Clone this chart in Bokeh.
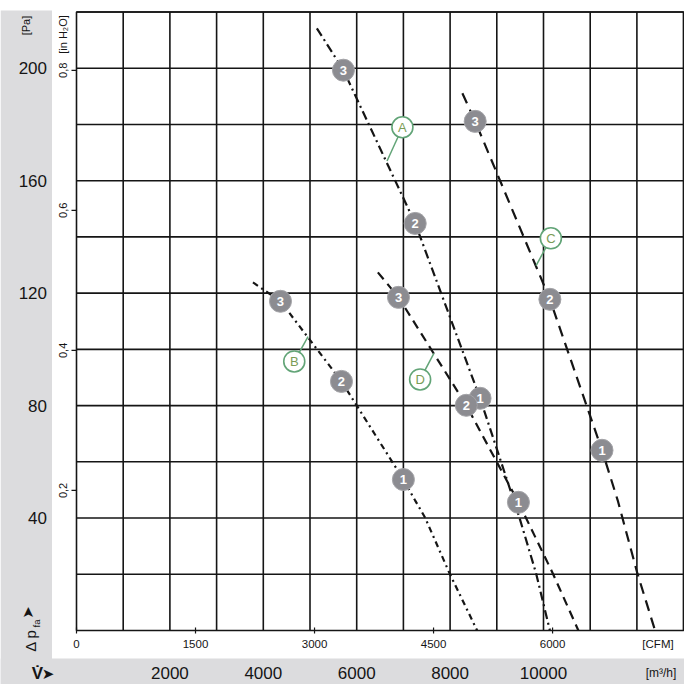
import math
from bokeh.plotting import figure
from bokeh.models import Range1d, ColumnDataSource
from bokeh.core.properties import value
from bokeh.embed import file_html
from bokeh.resources import INLINE

# ---------------- data (flow in m3/h, pressure in Pa) ----------------
curve_a_flow = [5147, 5716, 7253, 8642, 9484, 9842, 10137]
curve_a_pres = [214.2, 199.3, 144.8, 82.6, 40.2, 20.3, 0.0]
curve_b_flow = [3779, 4368, 5674, 7000, 7250, 7463, 7989, 8579]
curve_b_pres = [123.8, 117.1, 88.6, 53.7, 46.3, 40.2, 20.3, 0.0]
curve_c_flow = [8263, 8537, 10137, 11253, 11589, 12011, 12389]
curve_c_pres = [191.1, 181.1, 117.8, 64.1, 46.3, 20.3, 0.0]
curve_d_flow = [6453, 6895, 8347, 9463, 10200, 10747]
curve_d_pres = [127.4, 118.5, 80.1, 45.6, 20.3, 0.0]

# operating points (3, 2, 1) per curve
pt_flow = [5716, 7253, 8642, 4368, 5674, 7000, 8537, 10137, 11253, 6895, 8347, 9463]
pt_pres = [199.3, 144.8, 82.6, 117.1, 88.6, 53.7, 181.1, 117.8, 64.1, 118.5, 80.1, 45.6]
pt_text = ["3", "2", "1", "3", "2", "1", "3", "2", "1", "3", "2", "1"]

# curve name tags and where their leaders touch the curves
tag_text = ["A", "B", "C", "D"]
tag_flow = [6979, 4663, 10158, 7358]
tag_pres = [179.0, 95.7, 139.5, 89.3]
tag_end_flow = [6650, 4958, 9842, 7653]
tag_end_pres = [167.0, 104.5, 129.8, 98.6]

# axes
flow_ticks = [2000, 4000, 6000, 8000, 10000]
flow_labels = ["2000", "4000", "6000", "8000", "10000"]
cfm_ticks = [0, 1500, 3000, 4500, 6000]
cfm_labels = ["0", "1500", "3000", "4500", "6000"]
pa_ticks = [40, 80, 120, 160, 200]
pa_labels = ["40", "80", "120", "160", "200"]
inh2o_ticks = [0.2, 0.4, 0.6, 0.8]
inh2o_labels = ["0,2", "0,4", "0,6", "0,8"]
grid_x = list(range(1000, 14000, 1000))
grid_y = list(range(20, 240, 20))

X_MAX = 13000
Y_MAX = 220
M3H_PER_CFM = 1.69901
PA_PER_INH2O = 249.089

# ---------------- layout (canvas pixels) ----------------
W = H = 684
F_LEFT, F_RIGHT = 76.0, 683.1      # plot box, canvas x
F_TOP, F_BOTTOM = 11.5, 630.0      # plot box, canvas y
sx = (F_RIGHT - F_LEFT) / X_MAX
sy = (F_BOTTOM - F_TOP) / Y_MAX


def cx(c):  # canvas x -> data x
    return (c - F_LEFT) / sx


def cy(c):  # canvas y -> data y
    return (F_BOTTOM - c) / sy


def dy(px):  # pixel length -> data length (y)
    return px / sy


GREY_BAND = "#dcdcde"
INK = "#151515"
SANS = "Liberation Sans"

p = figure(width=W, height=H, output_backend="svg", toolbar_location=None,
           x_range=Range1d(cx(0), cx(W)), y_range=Range1d(cy(H), cy(0)),
           x_axis_location=None, y_axis_location=None,
           min_border_left=0, min_border_right=0, min_border_top=0, min_border_bottom=0,
           background_fill_color="white", border_fill_color="white",
           outline_line_color=None)
p.xgrid.visible = False
p.ygrid.visible = False

# grey bands
p.quad(left=[cx(0), cx(0)], right=[cx(51.5), cx(W)], top=[cy(10), cy(658)],
       bottom=[cy(H), cy(H)], fill_color=GREY_BAND, line_color=None)

# grid and plot box
n_gx = len(grid_x)
n_gy = len(grid_y)
p.segment(x0=grid_x, y0=[0] * n_gx, x1=grid_x, y1=[Y_MAX] * n_gx,
          line_color=INK, line_width=1.6)
p.segment(x0=[0] * n_gy, y0=grid_y, x1=[X_MAX] * n_gy, y1=grid_y,
          line_color=INK, line_width=1.6)
p.quad(left=[0], right=[X_MAX], bottom=[0], top=[Y_MAX], fill_color=None,
       line_color=INK, line_width=1.6)

# ---- left: pressure in Pa (grey band) ----
p.text(x=[cx(46.5)] * len(pa_ticks), y=pa_ticks, text=pa_labels,
       text_font=value(SANS), text_font_size="17px", text_color=INK,
       text_align="right", text_baseline="middle")
p.text(x=[cx(25)], y=[cy(25)], text=["[Pa]"], angle=math.pi / 2,
       text_font=value(SANS), text_font_size="11px", text_color=INK,
       text_align="center", text_baseline="middle")

# ---- left: pressure in in H2O ----
inh2o_y = [t * PA_PER_INH2O for t in inh2o_ticks]
p.segment(x0=[cx(F_LEFT - 5)] * len(inh2o_y), y0=inh2o_y, x1=[0] * len(inh2o_y),
          y1=inh2o_y, line_color=INK, line_width=1.2)
p.text(x=[cx(62.5)] * len(inh2o_y), y=inh2o_y, text=inh2o_labels, angle=math.pi / 2,
       text_font=value(SANS), text_font_size="11px", text_color=INK,
       text_align="center", text_baseline="middle")
p.text(x=[cx(62.5)], y=[cy(34)], text=["[in H\u2082O]"], angle=math.pi / 2,
       text_font=value(SANS), text_font_size="11px", text_color=INK,
       text_align="center", text_baseline="middle")

# ---- bottom: CFM ----
cfm_x = [t * M3H_PER_CFM for t in cfm_ticks]
p.segment(x0=cfm_x, y0=[-dy(3)] * len(cfm_x), x1=cfm_x, y1=[dy(3)] * len(cfm_x),
          line_color=INK, line_width=1.2)
p.text(x=cfm_x, y=[cy(643)] * len(cfm_x), text=cfm_labels,
       text_font=value(SANS), text_font_size="11.5px", text_color=INK,
       text_align="center", text_baseline="middle")
p.text(x=[cx(657.5)], y=[cy(643)], text=["[CFM]"],
       text_font=value(SANS), text_font_size="11.5px", text_color=INK,
       text_align="center", text_baseline="middle")

# ---- bottom: m3/h (grey band) ----
p.text(x=flow_ticks, y=[cy(672)] * len(flow_ticks), text=flow_labels,
       text_font=value(SANS), text_font_size="17px", text_color=INK,
       text_align="center", text_baseline="middle")
p.text(x=[cx(660.5)], y=[cy(672)], text=["[m\u00b3/h]"],
       text_font=value(SANS), text_font_size="12px", text_color=INK,
       text_align="center", text_baseline="middle")

# ---- axis symbols ----
p.text(x=[cx(30)], y=[cy(640)], text=["\u0394 p"], angle=math.pi / 2,
       text_font=value(SANS), text_font_size="15px", text_color=INK,
       text_align="center", text_baseline="middle")
p.text(x=[cx(35.5)], y=[cy(623)], text=["fa"], angle=math.pi / 2,
       text_font=value(SANS), text_font_size="9.5px", text_color=INK,
       text_align="center", text_baseline="middle")
p.text(x=[cx(27.5)], y=[cy(612)], text=["\u27a4"], angle=math.pi / 2,
       text_font=value("DejaVu Sans"), text_font_size="15px", text_color=INK,
       text_align="center", text_baseline="middle")
p.text(x=[cx(37)], y=[cy(673)], text=["V\u0307"],
       text_font=value(SANS), text_font_style="bold", text_font_size="17px",
       text_color=INK, text_align="center", text_baseline="middle")
p.text(x=[cx(47.5)], y=[cy(673)], text=["\u27a4"],
       text_font=value("DejaVu Sans"), text_font_size="15px", text_color=INK,
       text_align="center", text_baseline="middle")

# ---------------- curves ----------------
LW = 2.2
p.line(curve_a_flow, curve_a_pres, line_color=INK, line_width=LW, line_dash="9 4 2 4")
p.line(curve_b_flow, curve_b_pres, line_color=INK, line_width=LW, line_dash="6 4 2 4")
p.line(curve_c_flow, curve_c_pres, line_color=INK, line_width=LW, line_dash="11 7")
p.line(curve_d_flow, curve_d_pres, line_color=INK, line_width=LW, line_dash="9 6")

# operating point markers
pts = ColumnDataSource(dict(x=pt_flow, y=pt_pres, t=pt_text))
p.scatter("x", "y", source=pts, size=22, fill_color="#8c8c91", line_color="#a4a4a8",
          line_width=1)
p.text("x", "y", text="t", source=pts, text_color="white", text_font=value(SANS),
       text_font_style="bold", text_font_size="13px", text_align="center",
       text_baseline="middle")

# curve tags
GREEN = "#62a477"
tags = ColumnDataSource(dict(x=tag_flow, y=tag_pres, x1=tag_end_flow, y1=tag_end_pres,
                             t=tag_text))
p.segment("x", "y", "x1", "y1", source=tags, line_color=GREEN, line_width=1.5)
p.scatter("x", "y", source=tags, size=21, fill_color="white", line_color=GREEN,
          line_width=1.6)
p.text("x", "y", text="t", source=tags, text_color="#7a9c56", text_font=value(SANS),
       text_font_size="13px", text_align="center", text_baseline="middle")

open("out.html", "w").write(file_html(p, INLINE))
